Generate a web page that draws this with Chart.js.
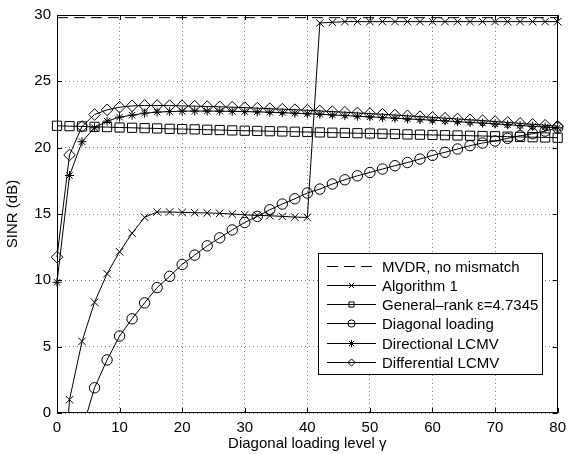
<!DOCTYPE html>
<html>
<head>
<meta charset="utf-8">
<script src="https://cdn.jsdelivr.net/npm/chart.js@4.4.4/dist/chart.umd.min.js"></script>
<style>
  html, body { margin: 0; padding: 0; background: #fff; }
  #wrap { width: 572px; height: 454px; }
</style>
</head>
<body>
<div id="wrap"><canvas id="chart" width="572" height="454"></canvas></div>
<script>
// diagonal loading level (x axis)
const gamma = [0, 2, 4, 6, 8, 10, 12, 14, 16, 18, 20, 22, 24, 26, 28, 30, 32, 34, 36, 38, 40,
  42, 44, 46, 48, 50, 52, 54, 56, 58, 60, 62, 64, 66, 68, 70, 72, 74, 76, 78, 80];

// SINR (dB) for each method
const mvdrX = [0, 80];
const mvdr = [29.8, 29.8];

const alg1 = [-12, 1.0, 5.4, 8.35, 10.5, 12.15, 13.55, 14.75, 15.15, 15.15, 15.12,
  15.1, 15.08, 15.05, 15.0, 14.94, 14.89, 14.87, 14.82, 14.77, 14.74,
  29.4, 29.45, 29.5, 29.5, 29.5, 29.5, 29.5, 29.5, 29.5, 29.5,
  29.5, 29.5, 29.5, 29.5, 29.5, 29.5, 29.5, 29.5, 29.5, 29.5];

const generalRank = [21.65, 21.62, 21.6, 21.57, 21.55, 21.52, 21.5, 21.47, 21.45, 21.42, 21.4,
  21.38, 21.35, 21.33, 21.3, 21.28, 21.26, 21.24, 21.22, 21.2, 21.18,
  21.15, 21.13, 21.11, 21.09, 21.07, 21.05, 21.03, 21.0, 20.98, 20.96,
  20.94, 20.92, 20.9, 20.88, 20.86, 20.83, 20.81, 20.79, 20.77, 20.75];

const diagLoading = [-15, -6, -1.3, 1.9, 4.0, 5.8, 7.1, 8.3, 9.45, 10.3, 11.2,
  11.9, 12.6, 13.2, 13.8, 14.36, 14.82, 15.32, 15.75, 16.15, 16.58,
  16.88, 17.26, 17.58, 17.88, 18.13, 18.39, 18.64, 18.88, 19.14, 19.42,
  19.65, 19.9, 20.15, 20.35, 20.5, 20.7, 20.9, 21.05, 21.25, 21.5];

const directional = [9.85, 17.9, 20.45, 21.5, 22.0, 22.3, 22.45, 22.6, 22.68, 22.72, 22.75,
  22.76, 22.76, 22.75, 22.74, 22.72, 22.7, 22.67, 22.64, 22.6, 22.56,
  22.52, 22.47, 22.42, 22.37, 22.32, 22.27, 22.22, 22.17, 22.12, 22.07,
  22.02, 21.96, 21.9, 21.85, 21.79, 21.73, 21.67, 21.61, 21.55, 21.5];

const differential = [11.75, 19.45, 21.6, 22.5, 22.85, 23.05, 23.15, 23.18, 23.18, 23.17, 23.15,
  23.13, 23.1, 23.08, 23.05, 23.02, 22.98, 22.94, 22.9, 22.86, 22.82,
  22.77, 22.72, 22.67, 22.62, 22.57, 22.52, 22.46, 22.4, 22.34, 22.28,
  22.22, 22.16, 22.1, 22.04, 21.97, 21.9, 21.83, 21.76, 21.69, 21.62];

const xTicks = [0, 10, 20, 30, 40, 50, 60, 70, 80];
const yTicks = [0, 5, 10, 15, 20, 25, 30];

const FONT = '"Liberation Sans", Arial, Helvetica, sans-serif';

function pts(xs, ys) {
  return xs.map((x, i) => ({ x: x, y: ys[i] }));
}

function series(label, xs, ys, style, radius, dash) {
  return {
    label: label,
    data: pts(xs, ys),
    borderColor: '#000',
    borderWidth: 1,
    borderDash: dash || [],
    pointStyle: style || false,
    pointRadius: style ? radius : 0,
    pointBorderColor: '#000',
    pointBackgroundColor: 'rgba(0,0,0,0)',
    pointBorderWidth: 1,
    tension: 0,
    clip: { left: 10, top: 10, right: 10, bottom: 0 },
    legendStyle: style,
    legendDash: dash || []
  };
}

const datasets = [
  series('MVDR, no mismatch', mvdrX, mvdr, false, 0, [11, 6]),
  series('Algorithm 1', gamma, alg1, 'crossRot', 5.3),
  series('General\u2013rank \u03b5=4.7345', gamma, generalRank, 'rect', 6.5),
  series('Diagonal loading', gamma, diagLoading, 'circle', 5.2),
  series('Directional LCMV', gamma, directional, 'star', 4.5),
  series('Differential LCMV', gamma, differential, 'rectRot', 5.8)
];

// small marker painter for the legend box
function drawMark(ctx, style, x, y, r) {
  ctx.beginPath();
  if (style === 'crossRot') {
    const d = r * Math.SQRT1_2;
    ctx.moveTo(x - d, y - d); ctx.lineTo(x + d, y + d);
    ctx.moveTo(x + d, y - d); ctx.lineTo(x - d, y + d);
  } else if (style === 'rect') {
    const d = r * Math.SQRT1_2;
    ctx.rect(x - d, y - d, 2 * d, 2 * d);
  } else if (style === 'circle') {
    ctx.arc(x, y, r, 0, Math.PI * 2);
  } else if (style === 'star') {
    const d = r * Math.SQRT1_2;
    ctx.moveTo(x, y - r); ctx.lineTo(x, y + r);
    ctx.moveTo(x - r, y); ctx.lineTo(x + r, y);
    ctx.moveTo(x - d, y - d); ctx.lineTo(x + d, y + d);
    ctx.moveTo(x + d, y - d); ctx.lineTo(x - d, y + d);
  } else if (style === 'rectRot') {
    ctx.moveTo(x - r, y); ctx.lineTo(x, y - r);
    ctx.lineTo(x + r, y); ctx.lineTo(x, y + r);
    ctx.closePath();
  }
  ctx.stroke();
}

const boxPlugin = {
  id: 'matlabBox',
  afterDraw(chart) {
    const ctx = chart.ctx;
    const a = chart.chartArea;
    const xs = chart.scales.x, ys = chart.scales.y;
    ctx.save();
    ctx.strokeStyle = '#000';
    ctx.lineWidth = 1;
    ctx.setLineDash([]);

    // inward tick marks on all four sides
    ctx.beginPath();
    xTicks.forEach(v => {
      const px = Math.round(xs.getPixelForValue(v)) + 0.5;
      ctx.moveTo(px, a.bottom); ctx.lineTo(px, a.bottom - 5);
      ctx.moveTo(px, a.top); ctx.lineTo(px, a.top + 5);
    });
    yTicks.forEach(v => {
      const py = Math.round(ys.getPixelForValue(v)) + 0.5;
      ctx.moveTo(a.left, py); ctx.lineTo(a.left + 5, py);
      ctx.moveTo(a.right, py); ctx.lineTo(a.right - 5, py);
    });
    ctx.stroke();
    ctx.strokeRect(Math.round(a.left) + 0.5, Math.round(a.top) + 0.5,
      Math.round(a.right - a.left) - 1, Math.round(a.bottom - a.top) - 1);

    // legend box in the lower right
    const lx = Math.round(a.right) - 240, ly = Math.round(a.bottom) - 160;
    const lw = 224, lh = 121;
    ctx.fillStyle = '#fff';
    ctx.fillRect(lx, ly, lw, lh);
    ctx.strokeRect(lx + 0.5, ly + 0.5, lw, lh);
    ctx.font = '15px ' + FONT;
    ctx.textBaseline = 'middle';
    ctx.textAlign = 'left';
    chart.data.datasets.forEach((ds, i) => {
      const cy = Math.round(ly + 12.5 + i * 19.3) + 0.5;
      ctx.strokeStyle = '#000';
      ctx.setLineDash(ds.legendDash);
      ctx.beginPath();
      ctx.moveTo(lx + 9, cy); ctx.lineTo(lx + 58, cy);
      ctx.stroke();
      ctx.setLineDash([]);
      if (ds.legendStyle) drawMark(ctx, ds.legendStyle, lx + 33.5, cy, 3.6);
      ctx.fillStyle = '#000';
      ctx.fillText(ds.label, lx + 64, cy + 1);
    });
    ctx.restore();
  }
};

new Chart(document.getElementById('chart'), {
  type: 'line',
  data: { datasets: datasets },
  options: {
    responsive: false,
    animation: false,
    layout: { padding: { left: 0, right: 8, top: 15, bottom: 0 } },
    plugins: { legend: { display: false }, tooltip: { enabled: false } },
    scales: {
      x: {
        type: 'linear',
        min: 0, max: 80,
        afterBuildTicks: s => { s.ticks = xTicks.map(v => ({ value: v })); },
        afterFit: s => { s.height = 41; },
        grid: { color: '#7a7a7a', lineWidth: 1, drawTicks: false },
        border: { display: false, dash: [1, 3] },
        ticks: { color: '#000', padding: 6, font: { family: FONT, size: 15 } },
        title: { display: true, text: 'Diagonal loading level \u03b3', color: '#000',
          font: { family: FONT, size: 15 }, padding: { top: 0, bottom: 1 } }
      },
      y: {
        type: 'linear',
        min: 0, max: 30,
        afterBuildTicks: s => { s.ticks = yTicks.map(v => ({ value: v })); },
        afterFit: s => { s.width = 57; },
        grid: { color: '#7a7a7a', lineWidth: 1, drawTicks: false },
        border: { display: false, dash: [1, 3] },
        ticks: { color: '#000', padding: 6, font: { family: FONT, size: 15 } },
        title: { display: true, text: 'SINR (dB)', color: '#000',
          font: { family: FONT, size: 15 }, padding: { top: 4, bottom: 0 } }
      }
    }
  },
  plugins: [boxPlugin]
});
</script>
</body>
</html>
